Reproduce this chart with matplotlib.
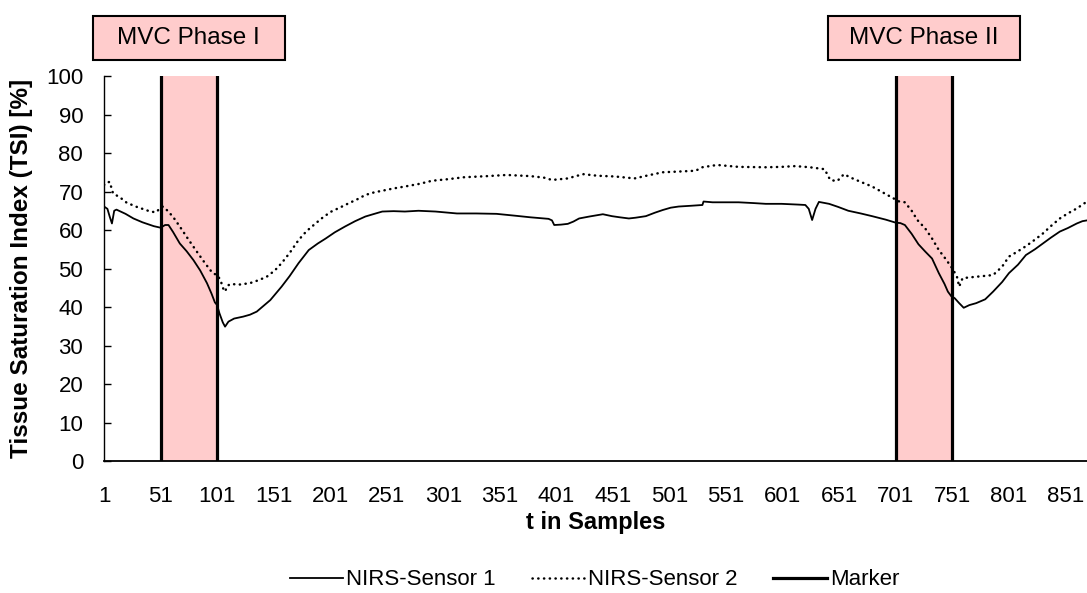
"""
NIRS tissue saturation during two MVC phases.

Redraws the Excel line chart: two sensor traces, marker lines
at the start/end of each MVC phase and shaded phase windows.
"""

import numpy as np
import matplotlib
matplotlib.use('Agg')
import matplotlib.pyplot as plt
from matplotlib.patches import Rectangle
from matplotlib.transforms import blended_transform_factory

# --- data (sample index, TSI in %) ---
sensor1_t = [1, 4, 6, 8, 10, 12, 20, 27, 35, 45, 51, 55, 58, 62, 68, 74, 80, 86,
             92, 96, 99, 101, 103, 106, 108, 111, 116, 124, 130, 136, 142, 148,
             158, 165, 173, 182, 190, 197, 205, 214, 223, 232, 240, 247, 257,
             267, 279, 294, 313, 330, 348, 365, 378, 394, 397, 399, 405, 411,
             416, 421, 430, 442, 450, 457, 465, 471, 480, 488, 495, 502, 509,
             520, 530, 531, 539, 550, 562, 575, 586, 600, 615, 621, 624, 627,
             630, 633, 642, 650, 659, 670, 680, 692, 701, 705, 709, 715, 721,
             727, 733, 739, 744, 747, 750, 753, 757, 761, 766, 772, 780, 787,
             795, 801, 809, 816, 824, 831, 838, 846, 853, 861, 866, 872]
sensor1_v = [66.1, 65.5, 63.5, 61.7, 65.0, 65.3, 64.2, 63.0, 62.0, 61.0, 60.6,
             61.3, 61.3, 59.5, 56.5, 54.5, 52.2, 49.5, 46.2, 43.5, 41.2, 40.5,
             38.4, 36.0, 34.9, 36.2, 37.0, 37.5, 38.0, 38.8, 40.3, 41.8, 45.3,
             48.0, 51.4, 54.8, 56.5, 57.8, 59.4, 60.9, 62.3, 63.5, 64.2, 64.8,
             64.9, 64.8, 65.0, 64.8, 64.3, 64.3, 64.2, 63.7, 63.3, 62.9, 62.5,
             61.3, 61.4, 61.6, 62.2, 63.0, 63.5, 64.1, 63.6, 63.3, 63.0, 63.2,
             63.6, 64.5, 65.2, 65.8, 66.1, 66.3, 66.5, 67.4, 67.2, 67.2, 67.2,
             67.0, 66.8, 66.8, 66.6, 66.5, 65.5, 62.6, 65.5, 67.3, 66.8, 66.0,
             65.0, 64.3, 63.6, 62.7, 61.9, 61.8, 61.3, 59.0, 56.3, 54.4, 52.6,
             48.8, 46.0, 44.0, 42.8, 42.3, 41.0, 39.8, 40.5, 41.0, 42.0, 44.0,
             46.5, 48.8, 51.0, 53.5, 55.0, 56.5, 58.0, 59.6, 60.5, 61.7, 62.3,
             62.6]

sensor2_t = [1, 3, 6, 9, 15, 21, 30, 42, 47, 49, 53, 58, 63, 68, 75, 83, 90, 97,
             101, 104, 106, 108, 110, 113, 120, 130, 138, 145, 152, 158, 165,
             173, 180, 188, 195, 202, 210, 217, 225, 232, 240, 247, 257, 267,
             280, 291, 305, 319, 340, 357, 378, 390, 397, 404, 411, 418, 425,
             437, 453, 470, 482, 495, 510, 524, 530, 543, 562, 586, 600, 612,
             625, 638, 643, 649, 652, 655, 662, 670, 680, 688, 696, 704, 709,
             715, 720, 727, 733, 739, 745, 751, 755, 757, 760, 770, 787, 795,
             801, 808, 816, 824, 831, 838, 846, 853, 861, 867, 872]
sensor2_v = [71.7, 72.3, 72.5, 69.5, 68.5, 67.1, 66.0, 64.8, 64.6, 65.2, 66.1,
             64.8, 63.0, 60.9, 57.8, 54.4, 51.5, 48.8, 48.3, 47.0, 45.0, 44.0,
             45.5, 46.0, 45.8, 46.2, 47.0, 47.9, 49.5, 51.4, 54.0, 57.4, 59.7,
             61.7, 63.4, 64.8, 65.9, 66.9, 68.0, 69.1, 69.8, 70.2, 70.8, 71.3,
             72.0, 72.8, 73.2, 73.7, 74.0, 74.3, 74.0, 73.6, 73.0, 73.2, 73.4,
             74.0, 74.5, 74.1, 73.9, 73.4, 74.2, 75.0, 75.2, 75.4, 76.3, 76.9,
             76.4, 76.3, 76.4, 76.6, 76.3, 75.8, 73.0, 72.7, 73.5, 74.5, 73.5,
             72.5, 71.3, 70.0, 68.7, 67.4, 67.2, 65.0, 62.6, 60.4, 57.8, 54.8,
             52.5, 50.0, 47.9, 45.3, 47.5, 47.8, 48.3, 50.5, 53.1, 54.3, 55.8,
             57.5, 59.1, 61.0, 63.0, 64.3, 65.6, 66.8, 67.8]

phase_start = [51, 701]
phase_end = [101, 751]
phase_labels = ['MVC Phase I', 'MVC Phase II']
marker_range = [0, 100]

x_ticks = list(range(1, 852, 50))
y_ticks = list(range(0, 101, 10))

PINK = '#ffcccc'
FONT = 'Liberation Sans'

plt.rcParams['font.family'] = [FONT, 'DejaVu Sans']

fig = plt.figure(figsize=(10.87, 5.93), dpi=100)
ax = fig.add_axes([0.0957, 0.2226, 0.9043, 0.6492])

# shaded MVC windows
for s, e in zip(phase_start, phase_end):
    ax.axvspan(s, e, color=PINK, lw=0, zorder=0)

ax.plot(sensor1_t, sensor1_v, color='black', lw=1.3, label='NIRS-Sensor 1',
        zorder=3)
ax.plot(sensor2_t, sensor2_v, color='black', lw=1.8,
        linestyle=(0, (0.1, 2.2)), dash_capstyle='round',
        label='NIRS-Sensor 2', zorder=3)

# marker series: vertical lines at every phase boundary, NaN-separated
mx, my = [], []
for pos in sorted(phase_start + phase_end):
    mx += [pos, pos, np.nan]
    my += [marker_range[0], marker_range[1], np.nan]
ax.plot(mx, my, color='black', lw=2.3, label='Marker', zorder=4)

ax.set_xlim(1, 870)
ax.set_ylim(0, 100)
ax.set_xticks(x_ticks)
ax.set_yticks(y_ticks)

ax.spines['top'].set_visible(False)
ax.spines['right'].set_visible(False)
ax.spines['left'].set_linewidth(1.0)
ax.spines['bottom'].set_linewidth(1.3)
ax.tick_params(axis='y', direction='in', length=5, width=1.0, pad=15,
               labelsize=16)
ax.tick_params(axis='x', length=0, pad=18, labelsize=16)

ax.set_xlabel('t in Samples', fontsize=17, fontweight='bold')
ax.xaxis.set_label_coords(0.5, -0.161)
ax.xaxis.label.set_va('center')
ax.set_ylabel('Tissue Saturation Index (TSI) [%]', fontsize=17.5,
              fontweight='bold')
ax.yaxis.set_label_coords(-0.084, 0.5)
ax.yaxis.label.set_va('center')

# phase label boxes above the plot area
trans = blended_transform_factory(ax.transData, ax.transAxes)
box_w = 170
for s, e, lab in zip(phase_start, phase_end, phase_labels):
    mid = (s + e) / 2
    ax.add_patch(Rectangle((mid - box_w / 2, 1.042), box_w, 0.114,
                           transform=trans, facecolor=PINK,
                           edgecolor='black', lw=1.5, clip_on=False))
    ax.text(mid, 1.099, lab, transform=trans, ha='center', va='center',
            fontsize=17.5)

ax.legend(loc='center', bbox_to_anchor=(0.547, 0.022),
          bbox_transform=fig.transFigure, ncol=3, frameon=False,
          fontsize=16, handlelength=2.4, handletextpad=0.15,
          columnspacing=1.6)

fig.savefig('out.png', dpi=100)
plt.close(fig)
